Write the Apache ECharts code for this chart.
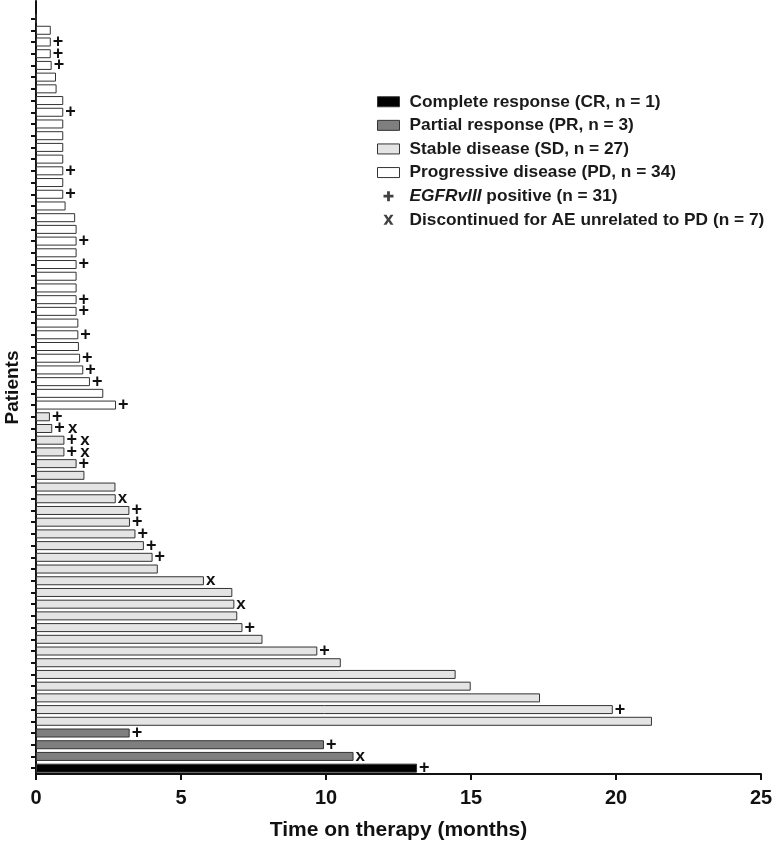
<!DOCTYPE html>
<html>
<head>
<meta charset="utf-8">
<script src="https://cdn.jsdelivr.net/npm/echarts@6/dist/echarts.min.js"></script>
<style>
html, body { margin: 0; padding: 0; background: #fff; }
#chart { width: 774px; height: 852px; }
</style>
</head>
<body>
<div id="chart"></div>
<script>
// patients listed from bottom of the chart (1) to top (65)
const response = [
  'CR', 'PR', 'PR', 'PR',
  'SD', 'SD', 'SD', 'SD', 'SD', 'SD', 'SD', 'SD', 'SD', 'SD', 'SD', 'SD', 'SD', 'SD',
  'SD', 'SD', 'SD', 'SD', 'SD', 'SD', 'SD', 'SD', 'SD', 'SD', 'SD', 'SD', 'SD',
  'PD', 'PD', 'PD', 'PD', 'PD', 'PD', 'PD', 'PD', 'PD', 'PD', 'PD', 'PD', 'PD', 'PD',
  'PD', 'PD', 'PD', 'PD', 'PD', 'PD', 'PD', 'PD', 'PD', 'PD', 'PD', 'PD', 'PD', 'PD',
  'PD', 'PD', 'PD', 'PD', 'PD', 'PD'
];
const months = [
  13.14, 10.95, 9.93, 3.23,
  21.24, 19.89, 17.38, 14.99, 14.47, 10.51, 9.70, 7.81, 7.12, 6.94, 6.84, 6.77, 5.79, 4.20,
  4.02, 3.72, 3.43, 3.24, 3.22, 2.75, 2.74, 1.67, 1.40, 0.98, 0.98, 0.56, 0.48,
  2.76, 2.32, 1.86, 1.63, 1.52, 1.48, 1.46, 1.46, 1.40, 1.40, 1.40, 1.40, 1.40, 1.40,
  1.40, 1.40, 1.35, 1.02, 0.94, 0.94, 0.94, 0.94, 0.94, 0.94, 0.94, 0.94, 0.94, 0.71,
  0.69, 0.54, 0.51, 0.51, 0.51, 0
];
// '+' = EGFRvIII positive, 'x' = discontinued for AE
const markers = [
  '+', 'x', '+', '+',
  '', '+', '', '', '', '', '+', '', '+', '', 'x', '', 'x', '',
  '+', '+', '+', '+', '+', 'x', '', '', '+', '+x', '+x', '+x', '+',
  '+', '', '+', '+', '+', '', '+', '', '+', '+', '', '', '+', '',
  '+', '', '', '', '+', '', '+', '', '', '', '', '+', '', '',
  '', '+', '+', '+', '', ''
];
const groups = ['CR', 'PR', 'SD', 'PD'];
const groupNames = [
  'Complete response (CR, n = 1)',
  'Partial response (PR, n = 3)',
  'Stable disease (SD, n = 27)',
  'Progressive disease (PD, n = 34)'
];
const groupColors = ['#000000', '#7f7f7f', '#e4e4e4', '#ffffff'];
const plusName = 'EGFRvIII positive (n = 31)';
const crossName = 'Discontinued for AE unrelated to PD (n = 7)';
const xTicks = [0, 5, 10, 15, 20, 25];

const FONT = '"Liberation Sans", Arial, sans-serif';
// one empty slot above the last patient so the axis runs on past the top bar
const patients = months.map((v, i) => String(i + 1)).concat(['']);

const markerText = m => {
  if (m === '+') return '{p|+}';
  if (m === 'x') return '{x|x}';
  if (m === '+x') return '{p|+} {x|x}';
  return '';
};

const barSeries = groups.map((g, gi) => ({
  name: groupNames[gi],
  type: 'bar',
  stack: 'all',
  barWidth: 9,
  data: months.map((v, i) => response[i] === g ? v : '-'),
  itemStyle: { color: groupColors[gi], borderColor: '#333', borderWidth: 1 },
  label: {
    show: true,
    position: 'right',
    distance: 2,
    formatter: p => markerText(markers[p.dataIndex]),
    rich: {
      p: { fontFamily: FONT, fontWeight: 'bold', fontSize: 18, color: '#111' },
      x: { fontFamily: FONT, fontWeight: 'bold', fontSize: 17, color: '#111' }
    }
  }
}));

const chart = echarts.init(document.getElementById('chart'));
chart.setOption({
  animation: false,
  backgroundColor: '#fff',
  grid: { left: 36, right: 13, top: 1, bottom: 78, outerBoundsMode: 'none' },
  legend: {
    orient: 'vertical',
    left: 372,
    top: 88,
    itemWidth: 22,
    itemHeight: 10,
    itemGap: 6.1,
    selectedMode: false,
    textStyle: {
      fontFamily: FONT, fontWeight: 'bold', fontSize: 17.3, color: '#1a1a1a',
      lineHeight: 17.5, padding: [0, 0, 0, 5],
      rich: {
        i: { fontFamily: FONT, fontWeight: 'bold', fontStyle: 'italic', fontSize: 17.3, color: '#1a1a1a' }
      }
    },
    formatter: name => name === plusName ? '{i|EGFRvIII} positive (n = 31)' : name,
    data: groupNames.map((n, gi) => ({
      name: n, icon: 'rect',
      itemStyle: { color: groupColors[gi], borderColor: '#333', borderWidth: 1 }
    })).concat([
      { name: plusName, icon: 'path://M3.6,0H6.4V3.6H10V6.4H6.4V10H3.6V6.4H0V3.6H3.6Z',
        itemStyle: { color: '#111', borderWidth: 0 } },
      { name: crossName, icon: 'path://M0,0H3L5,3.3L7,0H10L6.6,5L10,10H7L5,6.7L3,10H0L3.4,5Z',
        itemStyle: { color: '#111', borderWidth: 0 } }
    ])
  },
  xAxis: {
    type: 'value',
    min: 0,
    max: 25,
    interval: 5,
    name: 'Time on therapy (months)',
    nameLocation: 'middle',
    nameGap: 46,
    nameTextStyle: { fontFamily: FONT, fontWeight: 'bold', fontSize: 21, color: '#111' },
    splitLine: { show: false },
    axisLine: { show: true, lineStyle: { color: '#111', width: 2 } },
    axisTick: { show: true, length: 6, lineStyle: { color: '#111', width: 2 } },
    axisLabel: {
      margin: 14,
      fontFamily: FONT, fontWeight: 'bold', fontSize: 20, color: '#111',
      formatter: v => xTicks.includes(v) ? String(v) : ''
    }
  },
  yAxis: {
    type: 'category',
    data: patients,
    name: 'Patients',
    nameLocation: 'middle',
    nameGap: 14,
    nameTextStyle: { fontFamily: FONT, fontWeight: 'bold', fontSize: 19, color: '#111' },
    axisLine: { show: true, lineStyle: { color: '#111', width: 2 } },
    axisTick: {
      show: true, alignWithLabel: true, length: 5,
      interval: (idx, val) => val !== '',
      lineStyle: { color: '#111', width: 2 }
    },
    axisLabel: { show: false },
    splitLine: { show: false }
  },
  series: barSeries.concat([
    { name: plusName, type: 'scatter', data: [] },
    { name: crossName, type: 'scatter', data: [] }
  ])
});
</script>
</body>
</html>
